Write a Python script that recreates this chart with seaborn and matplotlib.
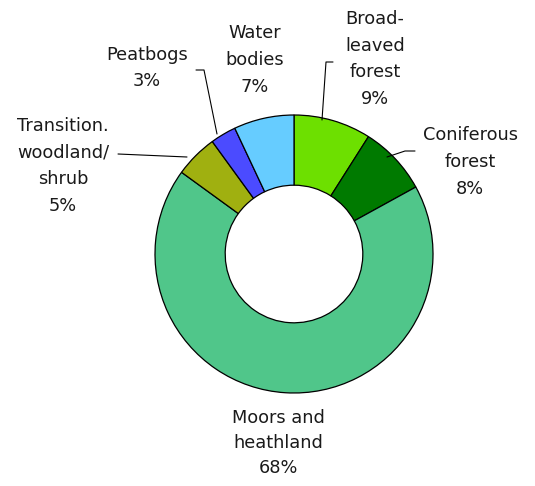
import matplotlib
matplotlib.use("Agg")
import matplotlib.pyplot as plt
import seaborn as sns

# Land cover shares, clockwise from 12 o'clock
categories = ["Broad-\nleaved\nforest", "Coniferous\nforest", "Moors and\nheathland",
              "Transition.\nwoodland/\nshrub", "Peatbogs", "Water\nbodies"]
shares = [9, 8, 68, 5, 3, 7]
colors = ["#6DE000", "#007A00", "#50C68A", "#A0B010", "#4B4BFF", "#66CCFF"]

sns.set_theme(style="white")
plt.rcParams["font.family"] = ["DejaVu Sans"]

W, H = 535, 486
fig = plt.figure(figsize=(W / 100, H / 100), dpi=100)
ax = fig.add_axes([0, 0, 1, 1])

cx, cy, R = 294, H - 254, 139
ax.pie(shares, colors=colors, startangle=90, counterclock=False,
       center=(cx, cy), radius=R, frame=True,
       wedgeprops=dict(width=R * 0.505, edgecolor="black", linewidth=0.9))
ax.set_xlim(0, W)
ax.set_ylim(0, H)
ax.set_aspect("equal")
ax.axis("off")

# label text with percentages, placed around the ring (x, y from top)
label_pos = [(375, 59), (470, 162), (278, 443), (63, 166), (147, 68), (255, 60)]
spacing = [1.62, 1.62, 1.5, 1.6, 1.62, 1.62]
for name, val, (x, y), ls in zip(categories, shares, label_pos, spacing):
    ax.text(x, H - y, f"{name}\n{val}%", ha="center", va="center",
            fontsize=12.8, color="#1a1a1a", linespacing=ls)

# leader lines (points from top)
leaders = [
    [(322, 120), (326, 62), (333, 62)],
    [(387, 157), (405, 151), (415, 151)],
    [(217, 134), (204, 70), (196, 70)],
    [(187, 157), (118, 154)],
]
for pts in leaders:
    xs = [p[0] for p in pts]
    ys = [H - p[1] for p in pts]
    ax.plot(xs, ys, color="black", lw=0.8)

fig.savefig("out.png", dpi=100, facecolor="white")
